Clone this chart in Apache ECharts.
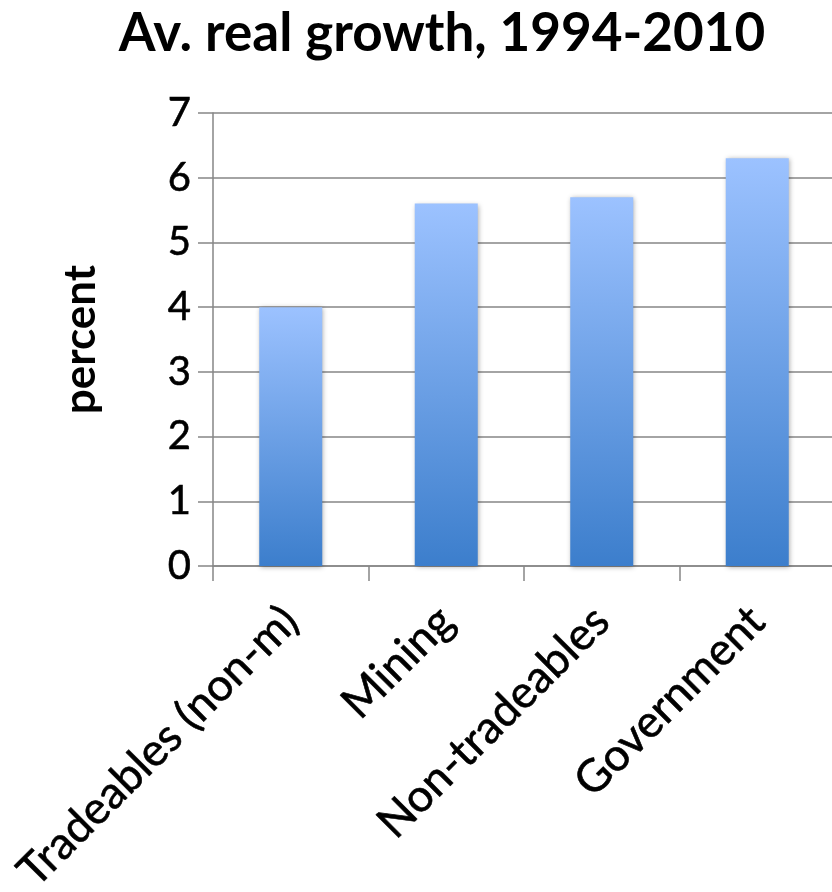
<!DOCTYPE html>
<html>
<head>
<meta charset="utf-8">
<script src="https://cdn.jsdelivr.net/npm/echarts@6/dist/echarts.min.js"></script>
<style>html,body{margin:0;padding:0;background:#fff}#c{width:832px;height:892px}</style>
</head>
<body>
<div id="c"></div>
<script>
var titleText = 'Av. real growth, 1994-2010';
var categories = ['Tradeables (non-m)', 'Mining', 'Non-tradeables', 'Government'];
var values = [4.0, 5.6, 5.7, 6.3];
var yAxisName = 'percent';
var yMin = 0, yMax = 7, yInterval = 1;

var FONT = 'Lato';
var chart = echarts.init(document.getElementById('c'), null, {renderer: 'canvas'});
chart.setOption({
  animation: false,
  backgroundColor: '#ffffff',
  title: {
    text: titleText,
    left: 437, top: 2, textAlign: 'center',
    textStyle: {fontFamily: FONT, fontWeight: 'bold', fontSize: 53, color: '#000'}
  },
  grid: {left: 213, top: 113, right: -3, bottom: 326, containLabel: false, outerBoundsMode: 'none'},
  xAxis: {
    type: 'category',
    data: categories,
    axisLine: {lineStyle: {color: '#868686', width: 1.5}},
    axisTick: {show: true, length: 15, alignWithLabel: false, lineStyle: {color: '#868686', width: 1.5}},
    axisLabel: {rotate: 45, margin: 48, interval: 0, fontFamily: FONT, fontSize: 45, color: '#000',
      textBorderColor: '#000', textBorderWidth: 0.6},
    splitLine: {show: false}
  },
  yAxis: {
    type: 'value',
    min: yMin, max: yMax, interval: yInterval,
    name: yAxisName,
    nameLocation: 'middle',
    nameRotate: 90,
    nameGap: 110,
    nameTextStyle: {fontFamily: FONT, fontWeight: 'bold', fontSize: 44, color: '#000'},
    axisLine: {show: true, lineStyle: {color: '#868686', width: 1.5}},
    axisTick: {show: true, length: 15, inside: false, lineStyle: {color: '#868686', width: 1.5}},
    axisLabel: {margin: 22, fontFamily: FONT, fontSize: 40, color: '#000',
      textBorderColor: '#000', textBorderWidth: 0.6},
    splitLine: {show: true, lineStyle: {color: '#868686', width: 1.5}}
  },
  series: [{
    type: 'bar',
    data: values,
    barWidth: 63,
    itemStyle: {
      color: new echarts.graphic.LinearGradient(0, 0, 0, 1, [
        {offset: 0, color: '#9cc2ff'},
        {offset: 1, color: '#3c7ecc'}
      ]),
      shadowColor: 'rgba(0,0,0,0.35)',
      shadowBlur: 5,
      shadowOffsetX: 1,
      shadowOffsetY: 1
    }
  }]
});
</script>
</body>
</html>
